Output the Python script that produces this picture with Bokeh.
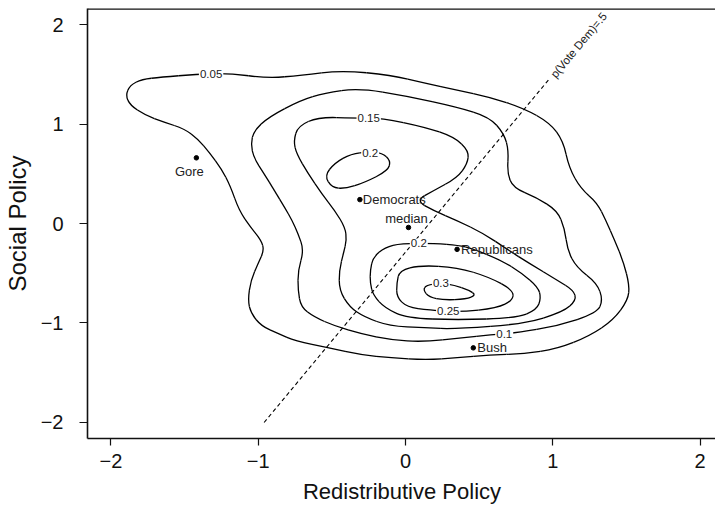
from bokeh.plotting import figure
from bokeh.models import Range1d, Span, FixedTicker, ColumnDataSource
from bokeh.core.properties import value
from bokeh.embed import file_html
from bokeh.resources import INLINE
import math

# ---------------- data ----------------
x_ticks = [-2, -1, 0, 1, 2]
x_tick_labels = ["\u22122", "\u22121", "0", "1", "2"]
y_ticks = [-2, -1, 0, 1, 2]
y_tick_labels = ["\u22122", "\u22121", "0", "1", "2"]

# contour paths (closed), data units
c005_x = [-1.90, -1.87, -1.79, -1.66, -1.42, -1.20, -0.93, -0.71, -0.43, -0.10, 0.13, 0.35, 0.57, 0.80,
          0.98, 1.07, 1.11, 1.19, 1.30, 1.36, 1.42, 1.48, 1.52, 1.51, 1.41, 1.25, 1.03, 0.80, 0.57, 0.35,
          0.14, -0.10, -0.30, -0.52, -0.75, -0.86, -0.98, -1.05, -1.07, -1.05, -1.00, -0.96, -0.98,
          -1.05, -1.13, -1.19, -1.25, -1.33, -1.41, -1.50, -1.64, -1.77, -1.87]
c005_y = [1.29, 1.39, 1.45, 1.47, 1.50, 1.51, 1.46, 1.49, 1.54, 1.49, 1.41, 1.34, 1.27, 1.16,
          1.01, 0.83, 0.56, 0.35, 0.21, 0.03, -0.17, -0.39, -0.62, -0.77, -0.97, -1.13, -1.26, -1.31, -1.32, -1.35,
          -1.37, -1.35, -1.32, -1.25, -1.18, -1.11, -1.03, -0.90, -0.77, -0.57, -0.40, -0.27, -0.17,
          -0.04, 0.13, 0.38, 0.55, 0.71, 0.85, 0.95, 1.02, 1.09, 1.19]

c010_x = [-1.05, -1.03, -0.93, -0.71, -0.55, -0.32, 0.01, 0.35, 0.57, 0.67, 0.70, 0.69, 0.73, 0.89,
          1.03, 1.08, 1.10, 1.16, 1.30, 1.34, 1.30, 1.03, 0.75, 0.58, 0.38, 0.12, -0.10, -0.30, -0.48,
          -0.62, -0.71, -0.73, -0.73, -0.69, -0.73, -0.77, -0.82, -0.89, -0.96, -1.03]
c010_y = [0.80, 0.93, 1.07, 1.24, 1.31, 1.36, 1.28, 1.17, 1.07, 0.90, 0.73, 0.51, 0.36, 0.26,
          0.13, -0.05, -0.27, -0.44, -0.60, -0.77, -0.90, -1.03, -1.10, -1.12, -1.15, -1.19, -1.17, -1.11, -1.03,
          -0.94, -0.84, -0.67, -0.47, -0.27, -0.10, 0.03, 0.16, 0.33, 0.50, 0.66]

c015_x = [-0.76, -0.73, -0.59, -0.35, -0.16, 0.13, 0.33, 0.43, 0.42, 0.35, 0.19, 0.07, 0.19, 0.35,
          0.53, 0.69, 0.84, 1.03, 1.14, 1.16, 1.07, 0.80, 0.35, 0.13, -0.11, -0.28, -0.38, -0.45, -0.45,
          -0.42, -0.40, -0.41, -0.48, -0.57, -0.66, -0.74]
c015_y = [0.83, 0.98, 1.07, 1.06, 1.06, 0.97, 0.87, 0.73, 0.60, 0.46, 0.33, 0.23, 0.13, 0.03,
          -0.10, -0.26, -0.40, -0.57, -0.67, -0.77, -0.89, -1.01, -1.06, -1.05, -1.03, -0.94, -0.84, -0.67, -0.47,
          -0.29, -0.17, -0.04, 0.13, 0.30, 0.50, 0.70]

c020a_x = [-0.55, -0.48, -0.37, -0.25, -0.16, -0.10, -0.12, -0.28, -0.41, -0.50]
c020a_y = [0.48, 0.61, 0.70, 0.72, 0.71, 0.63, 0.53, 0.41, 0.35, 0.36]

c020b_x = [-0.24, -0.22, -0.14, -0.03, 0.20, 0.36, 0.45, 0.65, 0.79, 0.90, 0.92, 0.89, 0.75, 0.35,
           0.01, -0.14, -0.22, -0.24]
c020b_y = [-0.47, -0.34, -0.24, -0.20, -0.20, -0.22, -0.25, -0.37, -0.50, -0.64, -0.75, -0.87, -0.95, -0.97,
           -0.95, -0.85, -0.72, -0.60]

c025_x = [-0.06, -0.04, 0.10, 0.35, 0.57, 0.73, 0.73, 0.62, 0.37, 0.16, 0.01, -0.06]
c025_y = [-0.60, -0.47, -0.42, -0.44, -0.54, -0.67, -0.77, -0.85, -0.89, -0.87, -0.84, -0.74]

c030_x = [0.12, 0.14, 0.24, 0.33, 0.43, 0.48, 0.41, 0.26, 0.16]
c030_y = [-0.67, -0.62, -0.60, -0.62, -0.67, -0.72, -0.76, -0.77, -0.74]

contour_label_text = ["0.05", "0.1", "0.15", "0.2", "0.2", "0.25", "0.3"]
contour_label_x = [-1.32, 0.67, -0.25, -0.24, 0.09, 0.29, 0.24]
contour_label_y = [1.50, -1.11, 1.06, 0.71, -0.20, -0.88, -0.60]

point_names = ["Gore", "Democrats", "median", "Republicans", "Bush"]
point_x = [-1.42, -0.31, 0.02, 0.35, 0.46]
point_y = [0.66, 0.24, -0.04, -0.26, -1.25]

cut_x = [-0.96, 0.98]
cut_y = [-2.00, 1.46]
cut_label = "p(Vote Dem)=.5"

# ---------------- figure ----------------
FONT = "Liberation Sans"

p = figure(frame_width=629, frame_height=430, output_backend="svg", toolbar_location=None,
           x_range=Range1d(-2.159, 2.111), y_range=Range1d(-2.161, 2.161),
           min_border_left=86, min_border_right=0, min_border_top=8, min_border_bottom=67)
p.outline_line_color = None
p.grid.visible = False
p.background_fill_color = "white"

for ax, ticks, labels in ((p.xaxis[0], x_ticks, x_tick_labels), (p.yaxis[0], y_ticks, y_tick_labels)):
    ax.ticker = FixedTicker(ticks=ticks)
    ax.major_label_overrides = {t: l for t, l in zip(ticks, labels)}
    ax.minor_tick_line_color = None
    ax.major_tick_in = 0
    ax.axis_line_width = 1.6
    ax.axis_line_color = "#111111"
    ax.major_tick_line_color = "#111111"
    ax.major_tick_line_width = 1.2
    ax.major_label_text_font = FONT
    ax.major_label_text_font_size = "20px"
    ax.major_label_text_color = "#111111"
    ax.axis_label_text_font = FONT
    ax.axis_label_text_font_style = "normal"
    ax.axis_label_text_color = "#111111"

p.xaxis.axis_label = "Redistributive Policy"
p.yaxis.axis_label = "Social Policy"
p.xaxis.axis_label_text_font_size = "22px"
p.yaxis.axis_label_text_font_size = "24px"
p.xaxis.major_tick_out = 7
p.yaxis.major_tick_out = 8
p.xaxis.major_label_standoff = 8
p.yaxis.major_label_standoff = 16
p.xaxis.axis_label_standoff = 8
p.yaxis.axis_label_standoff = 7
p.yaxis.major_label_orientation = "horizontal"

# top border of the box
p.add_layout(Span(location=2.157, dimension="width", line_color="#111111", line_width=1.6))


def smooth_closed(xs, ys):
    """Quadratic pieces between mid-points of a closed traced path (drawn by Bokeh)."""
    n = len(xs)
    x0, y0, x1, y1, cx, cy = [], [], [], [], [], []
    for i in range(n):
        a, b, c = i, (i + 1) % n, (i + 2) % n
        x0.append((xs[a] + xs[b]) / 2)
        y0.append((ys[a] + ys[b]) / 2)
        x1.append((xs[b] + xs[c]) / 2)
        y1.append((ys[b] + ys[c]) / 2)
        cx.append(xs[b])
        cy.append(ys[b])
    return dict(x0=x0, y0=y0, x1=x1, y1=y1, cx=cx, cy=cy)


contours = [(c005_x, c005_y), (c010_x, c010_y), (c015_x, c015_y), (c020a_x, c020a_y),
            (c020b_x, c020b_y), (c025_x, c025_y), (c030_x, c030_y)]
for cx_, cy_ in contours:
    src_c = ColumnDataSource(smooth_closed(cx_, cy_))
    p.quadratic(x0="x0", y0="y0", x1="x1", y1="y1", cx="cx", cy="cy", source=src_c,
                line_color="black", line_width=1.3)

# dividing line
p.line(cut_x, cut_y, line_color="black", line_width=1.1, line_dash="4 3")
ang = math.atan2((cut_y[1] - cut_y[0]) * 99.5, (cut_x[1] - cut_x[0]) * 147.3)
p.text(x=[cut_x[1]], y=[cut_y[1]], text=[cut_label], angle=ang, x_offset=3, y_offset=-2,
       text_font=value(FONT), text_font_size="11.5px", text_color="#222222",
       text_align="left", text_baseline="middle")

# contour labels
p.text(x=contour_label_x, y=contour_label_y, text=contour_label_text,
       text_font=value(FONT), text_font_size="11.5px", text_color="#222222",
       text_align="center", text_baseline="middle",
       background_fill_color="white", padding=1)

# points
p.scatter(point_x, point_y, size=4.5, color="black")
src = ColumnDataSource(dict(x=point_x, y=point_y, t=point_names,
                            align=["center", "left", "center", "left", "left"],
                            base=["top", "middle", "bottom", "middle", "middle"],
                            xo=[-7, 3, -2, 4, 4], yo=[6, 0, -1, 0, 0]))
p.text(x="x", y="y", text="t", text_align="align", text_baseline="base",
       x_offset="xo", y_offset="yo", source=src,
       text_font=value(FONT), text_font_size="13px", text_color="#222222")

open("out.html", "w").write(file_html(p, INLINE))
